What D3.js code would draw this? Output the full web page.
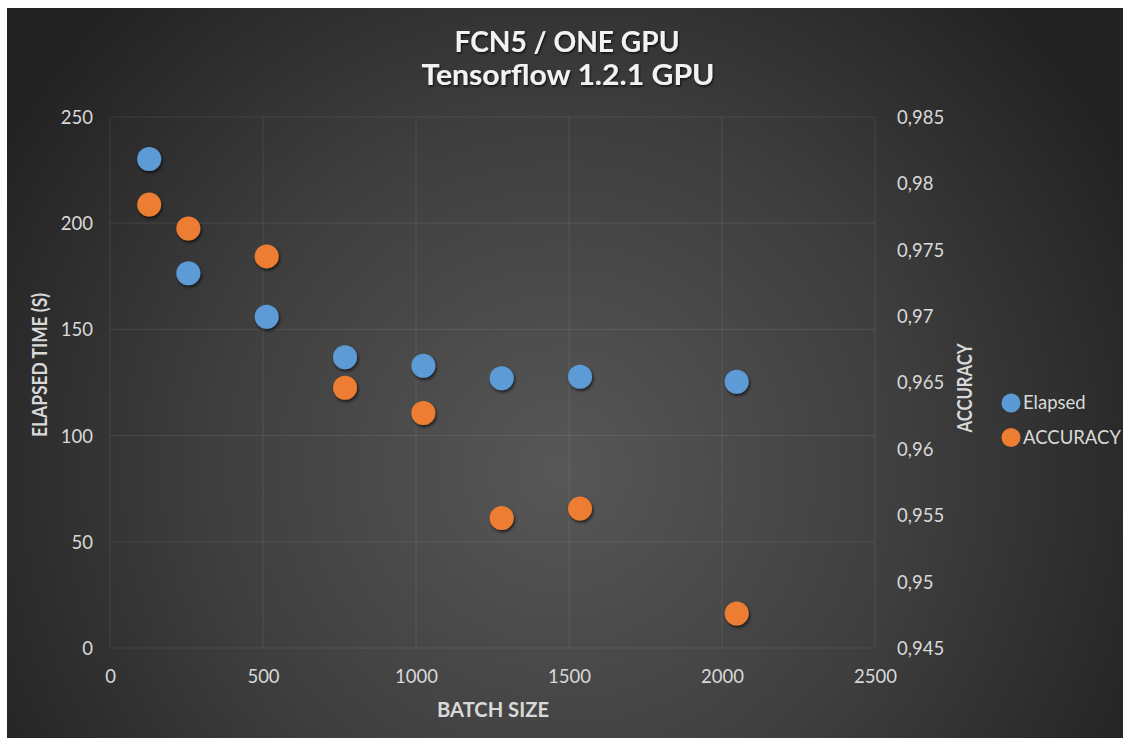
<!DOCTYPE html>
<html>
<head>
<meta charset="utf-8">
<script src="https://cdn.jsdelivr.net/npm/d3@7"></script>
<style>
  html, body { margin: 0; padding: 0; background: #ffffff; }
  svg { display: block; }
  text { font-family: Lato, "Noto Sans", sans-serif; }
</style>
</head>
<body>
<svg id="chart" width="1123" height="738"></svg>
<script>
// ---- data ----
const batchSizes = [128, 256, 512, 768, 1024, 1280, 1536, 2048];
const elapsed = [230.2, 176.4, 156.0, 136.9, 132.9, 127.0, 127.7, 125.4];
const accuracy = [0.9784, 0.9766, 0.9745, 0.9646, 0.9627, 0.9548, 0.9555, 0.9476];
const xTicks = [0, 500, 1000, 1500, 2000, 2500];
const leftTicks = [0, 50, 100, 150, 200, 250];
const rightTicks = [0.945, 0.95, 0.955, 0.96, 0.965, 0.97, 0.975, 0.98, 0.985];
const rightTickLabels = ["0,945", "0,95", "0,955", "0,96", "0,965", "0,97", "0,975", "0,98", "0,985"];
const titleLines = ["FCN5 / ONE GPU", "Tensorflow 1.2.1 GPU"];
const seriesNames = ["Elapsed", "ACCURACY"];
const seriesColors = ["#5b9bd5", "#ed7d31"];

const svg = d3.select("#chart");
const defs = svg.append("defs");

const bg = defs.append("radialGradient").attr("id", "bg")
  .attr("gradientUnits", "userSpaceOnUse")
  .attr("cx", 560).attr("cy", 470).attr("r", 640);
bg.append("stop").attr("offset", 0).attr("stop-color", "#575757");
bg.append("stop").attr("offset", 0.55).attr("stop-color", "#3e3e3e");
bg.append("stop").attr("offset", 1).attr("stop-color", "#232323");

const shadow = defs.append("filter").attr("id", "dotShadow")
  .attr("x", "-50%").attr("y", "-50%").attr("width", "200%").attr("height", "200%");
shadow.append("feDropShadow").attr("dx", 1.2).attr("dy", 2).attr("stdDeviation", 1.4)
  .attr("flood-color", "#000").attr("flood-opacity", 0.65);

const tShadow = defs.append("filter").attr("id", "textShadow")
  .attr("x", "-10%").attr("y", "-30%").attr("width", "120%").attr("height", "160%");
tShadow.append("feDropShadow").attr("dx", 1).attr("dy", 1.5).attr("stdDeviation", 1.2)
  .attr("flood-color", "#000").attr("flood-opacity", 0.7);

svg.append("rect").attr("x", 7).attr("y", 8).attr("width", 1116).attr("height", 730)
  .attr("fill", "url(#bg)");

// ---- scales ----
const x = d3.scaleLinear().domain([0, 2500]).range([110, 875]);
const yL = d3.scaleLinear().domain([0, 250]).range([648, 117]);
const yR = d3.scaleLinear().domain([0.945, 0.985]).range([648, 117]);

const gridColor = "rgba(255,255,255,0.09)";
const labelColor = "#d9d9d9";

// gridlines
svg.append("g").selectAll("line").data(leftTicks).join("line")
  .attr("x1", x(0)).attr("x2", x(2500))
  .attr("y1", d => yL(d)).attr("y2", d => yL(d))
  .attr("stroke", gridColor).attr("stroke-width", 1);
svg.append("g").selectAll("line").data(xTicks).join("line")
  .attr("x1", d => x(d)).attr("x2", d => x(d))
  .attr("y1", yL(0)).attr("y2", yL(250))
  .attr("stroke", gridColor).attr("stroke-width", 1);

// axes (labels only, via d3 axis generators)
const xAxis = svg.append("g").attr("transform", `translate(0,${yL(0)})`)
  .call(d3.axisBottom(x).tickValues(xTicks).tickSize(0).tickPadding(0).tickFormat(d3.format("d")));
xAxis.select(".domain").remove();
xAxis.selectAll("text").attr("y", 35).attr("dy", 0)
  .attr("fill", labelColor).attr("font-size", 18.5).attr("font-family", "Lato");

const lAxis = svg.append("g").attr("transform", `translate(93,0)`)
  .call(d3.axisLeft(yL).tickValues(leftTicks).tickSize(0).tickPadding(0).tickFormat(d3.format("d")));
lAxis.select(".domain").remove();
lAxis.selectAll("text").attr("x", 0).attr("dy", "0.35em")
  .attr("fill", labelColor).attr("font-size", 18.5).attr("font-family", "Lato");

const rAxis = svg.append("g").attr("transform", `translate(897,0)`)
  .call(d3.axisRight(yR).tickValues(rightTicks).tickSize(0).tickPadding(0)
    .tickFormat((d, i) => rightTickLabels[i]));
rAxis.select(".domain").remove();
rAxis.selectAll("text").attr("x", 0).attr("dy", "0.35em")
  .attr("fill", labelColor).attr("font-size", 18.5).attr("font-family", "Lato");

// titles
svg.append("text").attr("x", 567).attr("y", 52).attr("text-anchor", "middle")
  .attr("font-size", 28.5).attr("font-weight", 700).attr("fill", "#f2f2f2")
  .attr("filter", "url(#textShadow)")
  .attr("textLength", 225).attr("lengthAdjust", "spacingAndGlyphs")
  .text(titleLines[0]);
svg.append("text").attr("x", 568).attr("y", 85).attr("text-anchor", "middle")
  .attr("font-size", 28.5).attr("font-weight", 700).attr("fill", "#f2f2f2")
  .attr("filter", "url(#textShadow)")
  .attr("textLength", 293).attr("lengthAdjust", "spacingAndGlyphs")
  .text(titleLines[1]);

// axis titles
svg.append("text").attr("x", 493).attr("y", 717).attr("text-anchor", "middle")
  .attr("font-size", 21).attr("font-weight", 700).attr("fill", labelColor)
  .attr("textLength", 112).attr("lengthAdjust", "spacingAndGlyphs")
  .text("BATCH SIZE");
svg.append("text").attr("transform", "translate(47,365) rotate(-90)").attr("text-anchor", "middle")
  .attr("font-size", 20).attr("font-weight", 700).attr("fill", labelColor)
  .attr("textLength", 144).attr("lengthAdjust", "spacingAndGlyphs")
  .text("ELAPSED TIME (S)");
svg.append("text").attr("transform", "translate(972,388) rotate(-90)").attr("text-anchor", "middle")
  .attr("font-size", 20).attr("font-weight", 700).attr("fill", labelColor)
  .attr("textLength", 89).attr("lengthAdjust", "spacingAndGlyphs")
  .text("ACCURACY");

// points
const elapsedData = batchSizes.map((b, i) => ({ b, v: elapsed[i] }));
const accData = batchSizes.map((b, i) => ({ b, v: accuracy[i] }));

svg.append("g").selectAll("circle").data(elapsedData).join("circle")
  .attr("cx", d => x(d.b)).attr("cy", d => yL(d.v)).attr("r", 12)
  .attr("fill", seriesColors[0]).attr("filter", "url(#dotShadow)");
svg.append("g").selectAll("circle").data(accData).join("circle")
  .attr("cx", d => x(d.b)).attr("cy", d => yR(d.v)).attr("r", 12)
  .attr("fill", seriesColors[1]).attr("filter", "url(#dotShadow)");

// legend
const legend = svg.append("g").selectAll("g").data(seriesNames).join("g")
  .attr("transform", (d, i) => `translate(1011,${403 + i * 34.5})`);
legend.append("circle").attr("r", 9.5).attr("fill", (d, i) => seriesColors[i]);
legend.append("text").attr("x", 12).attr("dy", "0.35em")
  .attr("font-size", 18.5).attr("fill", labelColor).text(d => d);
</script>
</body>
</html>
